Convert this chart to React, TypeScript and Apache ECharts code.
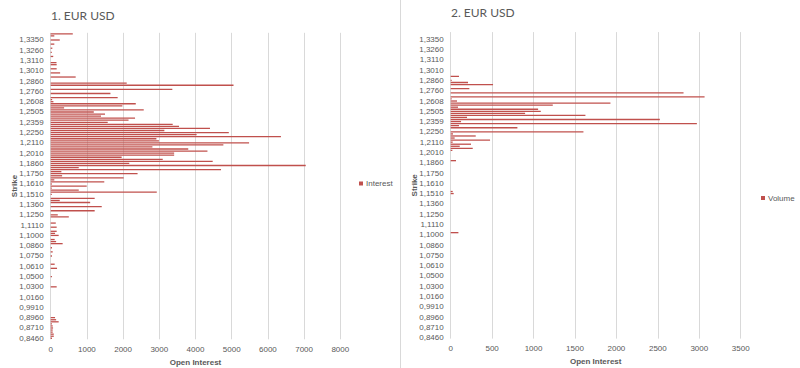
import React, { useEffect, useRef } from "react";
import * as echarts from "echarts";

// Strike categories, top to bottom
const strikes: string[] = [
  "1,3600", "1,3500", "1,3400", "1,3350", "1,3330", "1,3310", "1,3300", "1,3280", "1,3260", "1,3210",
  "1,3160", "1,3150", "1,3130", "1,3110", "1,3090", "1,3060", "1,3050", "1,3030", "1,3010", "1,2980",
  "1,2950", "1,2910", "1,2880", "1,2860", "1,2840", "1,2810", "1,2800", "1,2780", "1,2760", "1,2710",
  "1,2700", "1,2660", "1,2650", "1,2608", "1,2600", "1,2560", "1,2550", "1,2510", "1,2505", "1,2500",
  "1,2450", "1,2410", "1,2400", "1,2359", "1,2350", "1,2310", "1,2300", "1,2260", "1,2250", "1,2210",
  "1,2200", "1,2160", "1,2150", "1,2110", "1,2100", "1,2060", "1,2050", "1,2030", "1,2010", "1,2000",
  "1,1950", "1,1910", "1,1900", "1,1860", "1,1850", "1,1810", "1,1800", "1,1760", "1,1750", "1,1710",
  "1,1700", "1,1660", "1,1650", "1,1610", "1,1600", "1,1560", "1,1550", "1,1520", "1,1510", "1,1500",
  "1,1450", "1,1410", "1,1400", "1,1360", "1,1350", "1,1310", "1,1300", "1,1260", "1,1250", "1,1210",
  "1,1200", "1,1160", "1,1150", "1,1110", "1,1100", "1,1060", "1,1050", "1,1010", "1,1000", "1,0960",
  "1,0950", "1,0910", "1,0900", "1,0860", "1,0850", "1,0810", "1,0800", "1,0760", "1,0750", "1,0710",
  "1,0700", "1,0660", "1,0650", "1,0610", "1,0600", "1,0560", "1,0550", "1,0510", "1,0500", "1,0450",
  "1,0400", "1,0350", "1,0310", "1,0300", "1,0260", "1,0250", "1,0200", "1,0170", "1,0160", "1,0100",
  "1,0050", "1,0000", "0,9960", "0,9910", "0,9700", "0,9460", "0,9210", "0,9000", "0,8960", "0,8900",
  "0,8850", "0,8800", "0,8750", "0,8710", "0,8650", "0,8600", "0,8550", "0,8500", "0,8460",
];

const interest: number[] = [
  610, 100, 0, 250, 0, 100, 0, 45, 0, 30,
  0, 70, 0, 0, 160, 165, 0, 165, 0, 260,
  0, 690, 0, 0, 2100, 5050, 0, 3360, 0, 1650,
  0, 1850, 40, 75, 2350, 1980, 370, 2570, 1190, 1500,
  1390, 2330, 2150, 1575, 3370, 3545, 4400, 3140, 4920, 4030,
  6360, 2920, 2990, 5480, 4770, 2810, 3800, 4330, 3410, 3410,
  1960, 3095, 4475, 2170, 7045, 775, 4705, 295, 2400, 315,
  2015, 100, 1480, 30, 995, 30, 775, 2930, 30, 0,
  1215, 250, 1090, 0, 1410, 0, 1215, 0, 195, 500,
  0, 0, 140, 0, 165, 0, 165, 120, 220, 0,
  110, 150, 330, 0, 35, 0, 55, 0, 35, 0,
  0, 0, 110, 0, 175, 0, 0, 0, 35, 0,
  0, 0, 0, 165, 0, 0, 0, 0, 0, 0,
  0, 0, 0, 0, 0, 0, 0, 0, 120, 150,
  220, 35, 55, 65, 55, 55, 85, 85, 35,
];

const volume: number[] = [
  0, 0, 0, 0, 0, 0, 0, 0, 0, 0,
  0, 0, 0, 0, 0, 0, 0, 0, 0, 0,
  0, 100, 0, 12, 209, 511, 0, 225, 0, 2810,
  0, 3064, 12, 76, 1928, 1232, 88, 1055, 1087, 898,
  1626, 197, 2524, 125, 2971, 100, 805, 0, 1602, 28,
  302, 48, 475, 24, 245, 109, 266, 20, 0, 0,
  0, 0, 64, 0, 0, 0, 0, 0, 0, 0,
  0, 0, 0, 0, 0, 0, 0, 24, 36, 0,
  0, 0, 0, 0, 0, 0, 0, 0, 0, 0,
  0, 0, 0, 0, 0, 0, 0, 93, 0, 0,
  0, 0, 0, 0, 0, 0, 0, 0, 0, 0,
  0, 0, 0, 0, 0, 0, 0, 0, 0, 0,
  0, 0, 0, 0, 0, 0, 0, 0, 0, 0,
  0, 0, 0, 0, 0, 0, 0, 0, 0, 0,
  0, 0, 0, 0, 0, 0, 0, 0, 0,
];

const titles = ["1. EUR USD", "2. EUR USD"];
const seriesNames = ["Interest", "Volume"];
const axisLimits = [
  { min: 0, max: 8000, interval: 1000 },
  { min: 0, max: 3500, interval: 500 },
];

const GRAY = "#595959";
const BAR = "#C0504D";
const NARROW = '"Liberation Sans Narrow", "Liberation Sans", Arial, sans-serif';
const TITLE_FONT = 'Lato, "Open Sans", sans-serif';

type PanelCfg = {
  title: string;
  titleTop: number;
  name: string;
  data: number[];
  lim: { min: number; max: number; interval: number };
  grid: { left: number; top: number; width: number; height: number };
  legend: { x: number; y: number };
  separator: boolean;
};

function buildOption(p: PanelCfg): any {
  const labelInterval = (index: number) => index >= 3 && (index - 3) % 5 === 0;
  const graphics: any[] = [
    {
      type: "rect", silent: true,
      shape: { x: p.legend.x, y: p.legend.y - 2, width: 4, height: 4 },
      style: { fill: BAR },
    },
    {
      type: "text", silent: true,
      x: p.legend.x + 7, y: p.legend.y,
      style: {
        text: p.name, fill: GRAY, font: `8px ${NARROW}`,
        textAlign: "left", textVerticalAlign: "middle",
      },
    },
  ];
  if (p.separator) {
    graphics.push({
      type: "line", silent: true,
      shape: { x1: 0.5, y1: 0, x2: 0.5, y2: 368 },
      style: { stroke: "#d9d9d9", lineWidth: 1 },
    });
  }
  return {
    animation: false,
    color: [BAR],
    backgroundColor: "#ffffff",
    title: {
      text: p.title, left: 51, top: p.titleTop, padding: 0,
      textStyle: { fontSize: 12, fontWeight: "normal", color: GRAY, fontFamily: TITLE_FONT },
    },
    grid: { ...p.grid, containLabel: false, outerBoundsMode: "none" },
    xAxis: {
      type: "value",
      min: p.lim.min,
      max: p.lim.max,
      interval: p.lim.interval,
      name: "Open Interest",
      nameLocation: "middle",
      nameGap: 18,
      nameTextStyle: { fontSize: 8, fontWeight: "bold", color: GRAY, fontFamily: NARROW },
      axisLine: { show: false },
      axisTick: { show: false },
      axisLabel: {
        fontSize: 8, color: GRAY, fontFamily: NARROW, margin: 6,
        formatter: (v: number) => String(v),
      },
      splitLine: { show: true, lineStyle: { color: "#d9d9d9", width: 1 } },
    },
    yAxis: {
      type: "category",
      data: strikes,
      inverse: true,
      name: "Strike",
      nameLocation: "middle",
      nameRotate: 90,
      nameGap: 32,
      nameMoveOverlap: false,
      nameTextStyle: { fontSize: 8, fontWeight: "bold", color: GRAY, fontFamily: NARROW },
      axisLine: { show: false },
      axisTick: { show: false },
      axisLabel: { fontSize: 8, color: GRAY, fontFamily: NARROW, margin: 7, interval: labelInterval },
      splitLine: { show: false },
    },
    series: [
      {
        name: p.name, type: "bar",
        data: p.data, barWidth: 1.3, itemStyle: { color: BAR },
      },
    ],
    graphic: graphics,
  };
}

const panels: PanelCfg[] = [
  {
    title: titles[0], titleTop: 9, name: seriesNames[0], data: interest, lim: axisLimits[0],
    grid: { left: 50.7, top: 32.8, width: 289.6, height: 306.5 },
    legend: { x: 359, y: 183.5 }, separator: false,
  },
  {
    title: titles[1], titleTop: 6, name: seriesNames[1], data: volume, lim: axisLimits[1],
    grid: { left: 50.7, top: 32.1, width: 290, height: 306.5 },
    legend: { x: 361, y: 198 }, separator: true,
  },
];

export default function App() {
  const leftRef = useRef<HTMLDivElement>(null);
  const rightRef = useRef<HTMLDivElement>(null);
  useEffect(() => {
    const els = [leftRef.current, rightRef.current];
    const charts = els.map((el, i) => {
      if (!el) return null;
      const c = echarts.init(el, null, { renderer: "svg" });
      c.setOption(buildOption(panels[i]));
      return c;
    });
    return () => charts.forEach((c) => c && c.dispose());
  }, []);
  return (
    <div style={{ position: "absolute", left: 0, top: 0, width: 800, height: 368, background: "#fff" }}>
      <div ref={leftRef} style={{ position: "absolute", left: 0, top: 0, width: 400, height: 368 }} />
      <div ref={rightRef} style={{ position: "absolute", left: 400, top: 0, width: 400, height: 368 }} />
    </div>
  );
}
